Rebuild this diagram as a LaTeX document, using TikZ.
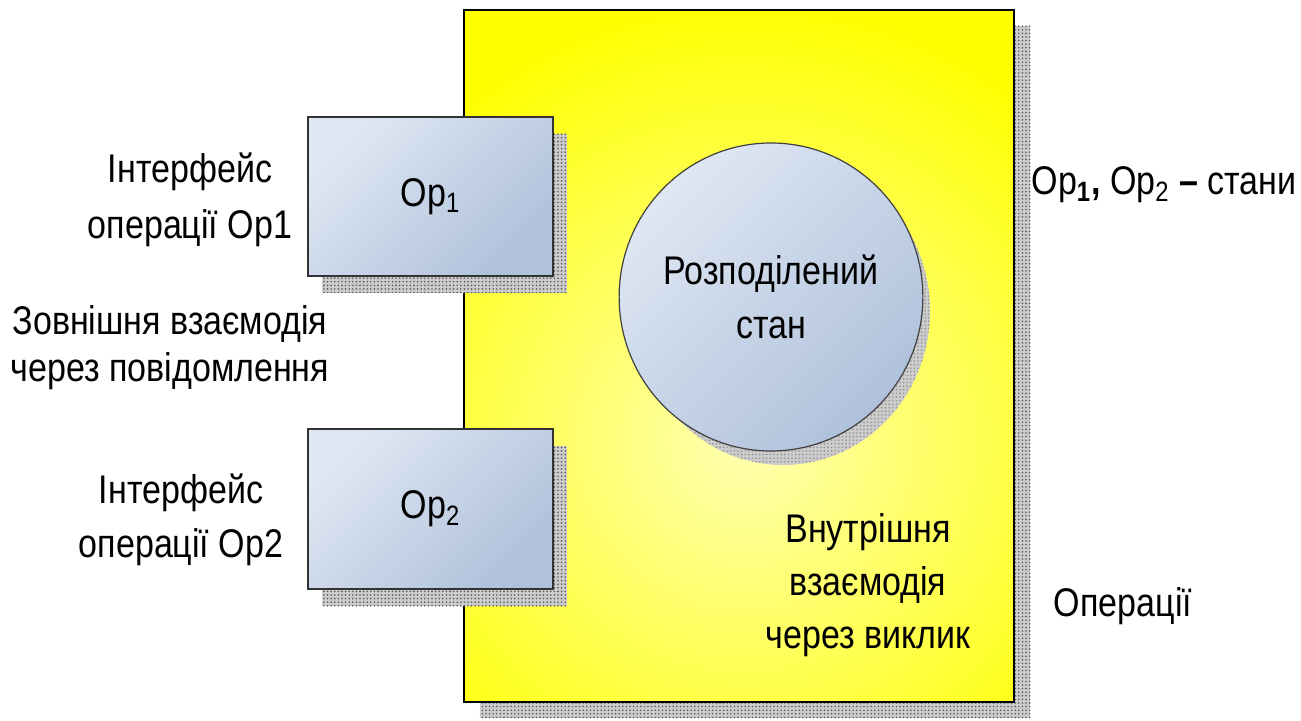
\documentclass[tikz,border=0pt]{standalone}
\usepackage{fontspec}
\setmainfont{Liberation Sans}[FakeStretch=0.85]
\usetikzlibrary{shapes.geometric,patterns.meta}
\definecolor{bluelight}{HTML}{DFE7F3}
\definecolor{bluedark}{HTML}{AFC1DB}
\definecolor{yel}{HTML}{FFFF00}
\begin{document}
\begin{tikzpicture}[x=0.5pt,y=-0.5pt,
  txt/.style={font=\fontsize{20}{27}\selectfont, align=center, inner sep=0pt},
  shadowfill/.style={preaction={fill=black!20}, pattern={Dots[distance=1.8pt,radius=0.45pt]}, pattern color=black!65},
  opbox/.style={draw=black!80, line width=1pt, minimum width=122.5pt, minimum height=79.5pt, inner sep=0pt,
    top color=bluelight, bottom color=bluedark, shading angle=45, txt},
  statenode/.style={ellipse, draw=black!75, line width=0.6pt, minimum width=147pt, minimum height=154pt, inner sep=0pt,
    top color=bluelight, bottom color=bluedark, shading angle=45, txt},
]
\useasboundingbox (0,0) rectangle (1301,721);
% system box
\node[minimum width=275pt, minimum height=346pt, inner sep=0pt] (sys) at (739,356) {};
\fill[shadowfill] ([shift={(16,16)}]sys.north west) rectangle ([shift={(16,16)}]sys.south east);
\begin{scope}
  \clip (sys.north west) rectangle (sys.south east);
  \fill[yel] (sys.north west) rectangle (sys.south east);
  \shade[inner color=yellow!30!white, outer color=yel] (745,440) circle (440);
\end{scope}
\draw[line width=1pt] (sys.north west) rectangle (sys.south east);
% shared state
\coordinate (stc) at (771,297);
\fill[shadowfill, opacity=0.5] ([shift={(12,14)}]stc) ellipse [x radius=73.5pt, y radius=77pt];
\node[statenode] (st) at (stc) {Розподілений\\стан};
% operations
\coordinate (op1c) at (430.5,196.5);
\coordinate (op2c) at (430.5,509);
\fill[shadowfill] ([shift={(14,17)}]op1c) ++(-122.5,-79.5) rectangle ++(245,159);
\fill[shadowfill] ([shift={(14,17)}]op2c) ++(-122.5,-80) rectangle ++(245,160);
\node[opbox] (op1) at (op1c) {Op\textsubscript{1}};
\node[opbox, minimum height=80pt] (op2) at (op2c) {Op\textsubscript{2}};
% labels
\node[txt, font=\fontsize{20}{28}\selectfont] (if1) at (190,200) {Інтерфейс\\операції Op1};
\node[txt, font=\fontsize{20}{23.5}\selectfont] (ext) at (170,348) {Зовнішня взаємодія\\через повідомлення};
\node[txt] (if2) at (181,520) {Інтерфейс\\операції Op2};
\node[txt, font=\fontsize{20}{26.5}\selectfont] (int) at (868,585) {Внутрішня\\взаємодія\\через виклик};
\node[txt] (leg1) at (1164,185) {Op\textsubscript{\textbf{1}}\textbf{,} Op\textsubscript{2} \textbf{–} стани};
\node[txt] (leg2) at (1123,606) {Операції};
\end{tikzpicture}
\end{document}
